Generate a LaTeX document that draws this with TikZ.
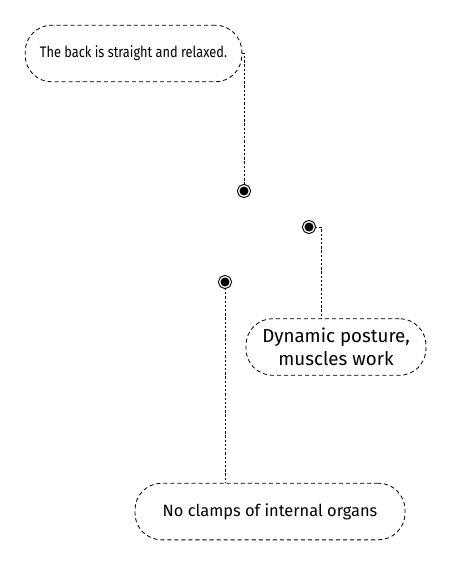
\documentclass[tikz,border=0pt]{standalone}
\usepackage{fontspec}
\setmainfont{Fira Sans}
\newfontfamily\narrowfont[FakeStretch=0.84]{Fira Sans}
\usetikzlibrary{positioning}

\begin{document}
\begin{tikzpicture}[
  x=0.03cm, y=-0.03cm,
  note/.style={draw, dash pattern=on 3.5pt off 2.5pt, line width=0.7pt, rounded corners=0.8cm, minimum height=1.7cm, align=center, font=\fontsize{14}{17}\selectfont},
  pin/.style={circle, draw, fill=black, double=white, double distance=1.1pt, line width=0.9pt, minimum size=0.32cm, inner sep=0pt},
  link/.style={dash pattern=on 2pt off 1.6pt, line width=0.7pt}
]
\useasboundingbox (0,0) rectangle (450,563);
\node[note, minimum width=6.5cm, font=\narrowfont\fontsize{13}{16}\selectfont] (back) at (133.5,53.5) {The back is straight and relaxed.};
\node[note, minimum width=5.4cm, inner xsep=2pt, font=\fontsize{16}{20}\selectfont] (dyn) at (336,347) {Dynamic posture,\\ muscles work};
\node[note, minimum width=8.1cm] (organs) at (270,511.5) {No clamps of internal organs};
\node[pin] (p1) at (244,191) {};
\node[pin] (p2) at (309,227) {};
\node[pin] (p3) at (225,282) {};
\draw[link] (back.east) -| (p1.north);
\draw[link] (p2.east) -| ([xshift=-0.45cm]dyn.north);
\draw[link] (p3.south) -- (p3.south |- organs.north);
\end{tikzpicture}
\end{document}
